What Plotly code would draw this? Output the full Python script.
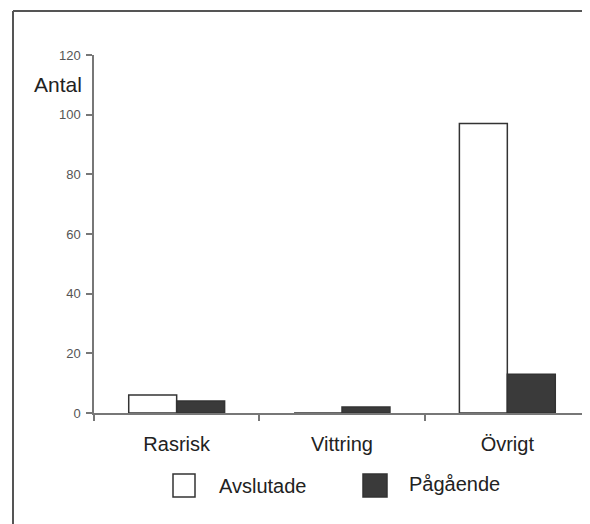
import plotly.graph_objects as go

categories = ["Rasrisk", "Vittring", "Övrigt"]
avslutade = [6, 0, 97]
pagaende = [4, 2, 13]
series_names = ["Avslutade", "Pågående"]
y_ticks = [0, 20, 40, 60, 80, 100, 120]
y_title = "Antal"

# page body adds an 8px offset; work in reference pixel coordinates minus that
OFF = 8
W, H = 590 - OFF, 524 - OFF
L = 94 - OFF
T = 55 - OFF
R = 0
B = H - (413 - OFF)
PW, PH = W - L - R, H - T - B


def px(x):
    return (x - OFF - L) / PW


def py(y):
    return (H - B - (y - OFF)) / PH


FONT = "Liberation Sans, Arial, sans-serif"

fig = go.Figure()
fig.add_trace(go.Bar(x=categories, y=avslutade, name=series_names[0],
                     marker=dict(color="white", line=dict(color="#333333", width=1.5))))
fig.add_trace(go.Bar(x=categories, y=pagaende, name=series_names[1],
                     marker=dict(color="#3a3a3a", line=dict(color="#333333", width=1.5))))

shapes = [
    # outer frame (left and top)
    dict(type="line", xref="paper", yref="paper", x0=px(13), x1=px(13), y0=py(11), y1=py(540),
         line=dict(color="#555555", width=2)),
    dict(type="line", xref="paper", yref="paper", x0=px(13), x1=px(600), y0=py(11), y1=py(11),
         line=dict(color="#555555", width=2)),
    # legend boxes
    dict(type="rect", xref="paper", yref="paper", x0=px(173), x1=px(195), y0=py(474), y1=py(497),
         fillcolor="white", line=dict(color="#333333", width=1.5)),
    dict(type="rect", xref="paper", yref="paper", x0=px(363), x1=px(387), y0=py(474), y1=py(497),
         fillcolor="#3a3a3a", line=dict(color="#333333", width=1.5)),
]

annotations = [
    dict(text=y_title, xref="paper", yref="paper", x=px(58), y=py(84), showarrow=False,
         xanchor="center", yanchor="middle", font=dict(family=FONT, size=21, color="#222222")),
    dict(text=series_names[0], xref="paper", yref="paper", x=px(217), y=py(486), showarrow=False,
         xanchor="left", yanchor="middle", font=dict(family=FONT, size=20, color="#222222")),
    dict(text=series_names[1], xref="paper", yref="paper", x=px(407), y=py(484), showarrow=False,
         xanchor="left", yanchor="middle", font=dict(family=FONT, size=20, color="#222222")),
]

fig.update_layout(
    width=W, height=H,
    margin=dict(l=L, r=R, t=T, b=B, pad=0),
    paper_bgcolor="white", plot_bgcolor="white",
    barmode="group", bargap=0.42, bargroupgap=0,
    showlegend=False,
    shapes=shapes, annotations=annotations,
    xaxis=dict(
        type="category", range=[-0.5, 2.5],
        showline=True, linecolor="#777777", linewidth=1.5,
        ticks="outside", tickson="boundaries", ticklen=6, tickcolor="#777777", tickwidth=1.5,
        showgrid=False, zeroline=False,
        ticklabelstandoff=12,
        tickfont=dict(family=FONT, size=20, color="#222222"),
    ),
    yaxis=dict(
        range=[0, 120], tickvals=y_ticks,
        showline=True, linecolor="#777777", linewidth=1.5,
        ticks="outside", ticklen=6, tickcolor="#777777", tickwidth=1.5,
        showgrid=False, zeroline=False,
        ticklabelstandoff=3,
        tickfont=dict(family=FONT, size=13, color="#555555"),
    ),
)

fig.write_html("out.html")
